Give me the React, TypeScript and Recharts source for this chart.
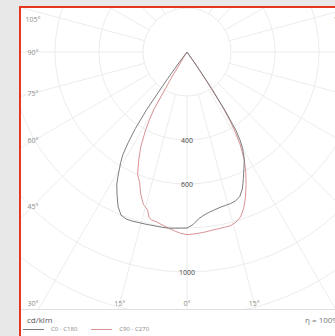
import React from "react";
import {
  RadarChart,
  Radar,
  PolarGrid,
  PolarAngleAxis,
  PolarRadiusAxis,
} from "recharts";

// gamma angles (deg from nadir), negative = left half of the plane
const gammas = [
  -40, -38, -37, -36, -35, -34, -33, -32, -31, -30, -29, -28, -26, -24, -22,
  -20, -18, -16, -14, -13, -12, -10, -8, -6, -4, -2, 0, 2, 4, 6, 8, 10, 12,
  14, 16, 18, 20, 22, 24, 26, 28, 29, 30, 31, 32, 33, 34, 35, 36, 38, 40,
];

// cd/klm, C0 - C180 plane
const c0c180 = [
  0, 0, 40, 150, 320, 420, 490, 550, 585, 615, 648, 680, 725, 770, 800,
  808, 808, 806, 805, 805, 804, 804, 805, 805, 803, 801, 800, 785, 760, 745, 735, 728, 722,
  719, 717, 712, 700, 672, 630, 590, 555, 530, 505, 470, 420, 320, 200, 80, 0, 0, 0,
];

// cd/klm, C90 - C270 plane
const c90c270 = [
  0, 0, 0, 0, 0, 0, 0, 30, 150, 300, 350, 400, 480, 540, 600,
  630, 680, 720, 740, 770, 780, 785, 795, 805, 815, 825, 830, 828, 825, 822, 818, 816, 815,
  814, 805, 788, 755, 710, 660, 610, 555, 515, 480, 430, 370, 290, 160, 50, 0, 0, 0,
];

const gridAngles = [
  -165, -150, -135, -120, -105, -90, -75, -60, -45, -30, -15, 0, 15, 30, 45, 60,
  75, 90, 105, 120, 135, 150, 165, 180,
];
const rings = [200, 400, 600, 800, 1000, 1200, 1400];
const ringLabels = [400, 600, 1000];

const data = gammas.map((g, i) => ({
  gamma: g,
  c0: c0c180[i],
  c90: c90c270[i],
}));

const W = 314;
const H = 301;
const CX = 166;
const CY = 44;

// label box (chart coords)
const XL = 12;
const XR = 320;
const YT = 11;
const YB = 295;

const GRAY = "#7c7c7c";
const PINK = "#d99494";

function AngleTick(props: any) {
  const g = Number(props.payload?.value);
  if (Math.abs(g) > 105) return <g />;
  const rad = (g * Math.PI) / 180;
  const dx = Math.sin(rad);
  const dy = Math.cos(rad);
  let x: number;
  let y: number;
  if (Math.abs(g) >= 30) {
    const edge = dx < 0 ? XL : XR;
    const t = (edge - CX) / dx;
    x = edge;
    y = Math.min(YB, Math.max(YT, CY + t * dy));
  } else {
    const t = (YB - CY) / dy;
    x = CX + t * dx;
    y = YB;
  }
  return (
    <text x={x} y={y} textAnchor="middle" dominantBaseline="central" fontSize={7} fill="#8c8c8c">
      {Math.abs(g)}°
    </text>
  );
}

function RadiusTick(props: any) {
  const v = props.payload?.value;
  if (!ringLabels.includes(v)) return <g />;
  return (
    <text
      x={props.x}
      y={props.y}
      textAnchor="middle"
      dominantBaseline="central"
      fontSize={7}
      fill="#444444"
    >
      {v}
    </text>
  );
}

export default function App() {
  return (
    <div
      style={{
        position: "absolute",
        left: 0,
        top: 0,
        width: 335,
        height: 336,
        background: "#e8e8e8",
        overflow: "hidden",
        fontFamily: "'Open Sans', 'Liberation Sans', sans-serif",
      }}
    >
      <div
        style={{
          position: "absolute",
          left: 19,
          top: 6,
          width: 340,
          height: 340,
          background: "#fff",
          borderLeft: "2px solid #e5371f",
          borderTop: "2px solid #e5371f",
        }}
      >
        <RadarChart
          width={W}
          height={H}
          data={data}
          cx={CX}
          cy={CY}
          innerRadius={44}
          outerRadius={308}
          startAngle={-270}
          endAngle={90}
          margin={{ top: 0, right: 0, bottom: 0, left: 0 }}
        >
          <PolarGrid gridType="circle" stroke="#ececec" />
          <PolarAngleAxis
            dataKey="gamma"
            type="number"
            domain={[-180, 180]}
            ticks={gridAngles}
            tick={AngleTick}
            axisLine={false}
            tickLine={false}
          />
          <PolarRadiusAxis
            angle={-90}
            type="number"
            domain={[200, 1400]}
            allowDataOverflow
            ticks={rings}
            tick={RadiusTick}
            axisLine={false}
            tickLine={false}
          />
          <Radar
            name="C90 - C270"
            dataKey="c90"
            stroke={PINK}
            strokeWidth={1}
            fill="none"
            fillOpacity={0}
            dot={false}
            isAnimationActive={false}
          />
          <Radar
            name="C0 - C180"
            dataKey="c0"
            stroke={GRAY}
            strokeWidth={1}
            fill="none"
            fillOpacity={0}
            dot={false}
            isAnimationActive={false}
          />
        </RadarChart>
        <div
          style={{
            position: "absolute",
            left: 0,
            top: H,
            width: 320,
            borderTop: "1px solid #e0e0e0",
          }}
        />
        <div style={{ position: "absolute", left: 6, top: H + 5, fontSize: 8, color: "#555" }}>
          cd/klm
        </div>
        <div style={{ position: "absolute", left: 284, top: H + 5, fontSize: 8, color: "#777", whiteSpace: "nowrap" }}>
          η = 100%
        </div>
        <div
          style={{
            position: "absolute",
            left: 2,
            top: H + 16,
            display: "flex",
            alignItems: "center",
            fontSize: 6,
            color: "#888",
            whiteSpace: "nowrap",
          }}
        >
          <span style={{ width: 21, borderTop: `1px solid ${GRAY}`, marginRight: 7 }} />
          <span style={{ marginRight: 14 }}>C0 - C180</span>
          <span style={{ width: 21, borderTop: `1px solid ${PINK}`, marginRight: 7 }} />
          <span>C90 - C270</span>
        </div>
      </div>
    </div>
  );
}
